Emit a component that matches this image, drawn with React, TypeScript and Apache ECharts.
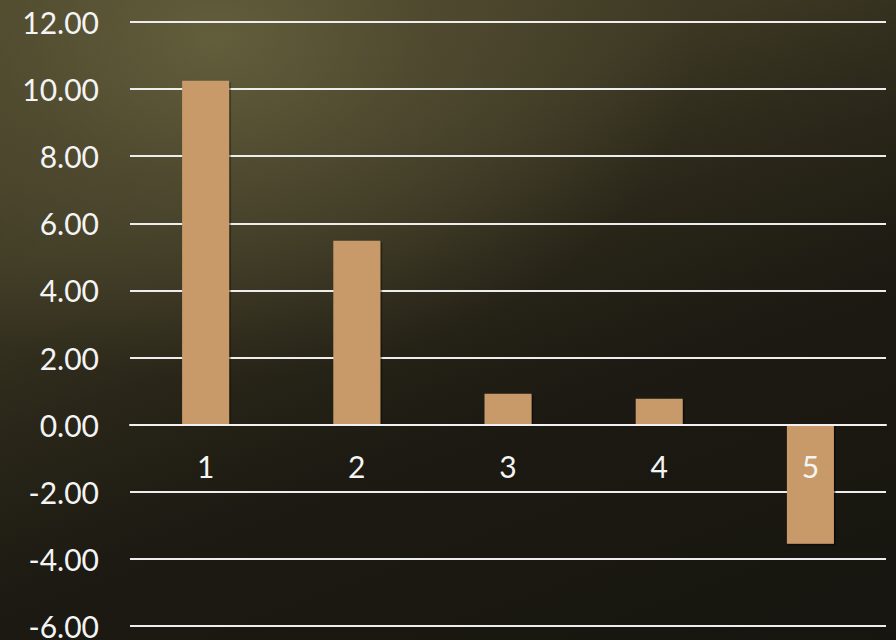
import React, { useEffect, useRef } from "react";
import * as echarts from "echarts";

const categories = ["1", "2", "3", "4", "5"];
const values = [10.25, 5.48, 0.92, 0.77, -3.55];
const yMin = -6;
const yMax = 12;
const yStep = 2;

const GRID_TOP = 22;
const GRID_BOTTOM = 14;
const H = 640;

export default function App() {
  const ref = useRef<HTMLDivElement>(null);
  useEffect(() => {
    if (!ref.current) return;
    const chart = echarts.init(ref.current, undefined, { renderer: "svg" });
    const plotH = H - GRID_TOP - GRID_BOTTOM;
    const zeroFromBottom = (plotH * (0 - yMin)) / (yMax - yMin);
    chart.setOption({
      animation: false,
      backgroundColor: "transparent",
      grid: {
        left: 130,
        right: 10,
        top: GRID_TOP,
        bottom: GRID_BOTTOM,
        containLabel: false,
        outerBoundsMode: "none",
      },
      xAxis: {
        type: "category",
        data: categories,
        offset: -zeroFromBottom,
        axisLine: { show: true, onZero: false, lineStyle: { color: "#f2f2f2", width: 2 } },
        axisTick: { show: false },
        axisLabel: {
          color: "#f4f4f4",
          fontFamily: "Lato",
          fontSize: 30,
          margin: 26,
        },
        splitLine: { show: false },
        z: 5,
      },
      yAxis: {
        type: "value",
        min: yMin,
        max: yMax,
        interval: yStep,
        axisLine: { show: false },
        axisTick: { show: false },
        axisLabel: {
          color: "#f4f4f4",
          fontFamily: "Lato",
          fontSize: 30,
          margin: 31,
          formatter: (v: number) => v.toFixed(2),
        },
        splitLine: { show: true, lineStyle: { color: "#ededed", width: 2 } },
      },
      series: [
        {
          type: "bar",
          data: values,
          barWidth: 47,
          itemStyle: {
            color: "#c89a6b",
            shadowColor: "rgba(0,0,0,0.55)",
            shadowOffsetX: 1.5,
            shadowOffsetY: 1.5,
            shadowBlur: 1,
          },
        },
      ],
    });
    return () => chart.dispose();
  }, []);
  return (
    <div
      style={{
        position: "fixed",
        left: 0,
        top: 0,
        width: 896,
        height: 640,
        background:
          "radial-gradient(ellipse 480px 340px at 24% 6%, rgba(100,95,60,0.95) 0%, rgba(90,85,55,0.55) 45%, rgba(70,65,40,0) 100%), linear-gradient(160deg, #4a4428 0%, #3c3823 28%, #2a2619 45%, #1c1a12 62%, #16150f 100%)",
      }}
    >
      <div ref={ref} style={{ width: 896, height: 640 }} />
    </div>
  );
}
